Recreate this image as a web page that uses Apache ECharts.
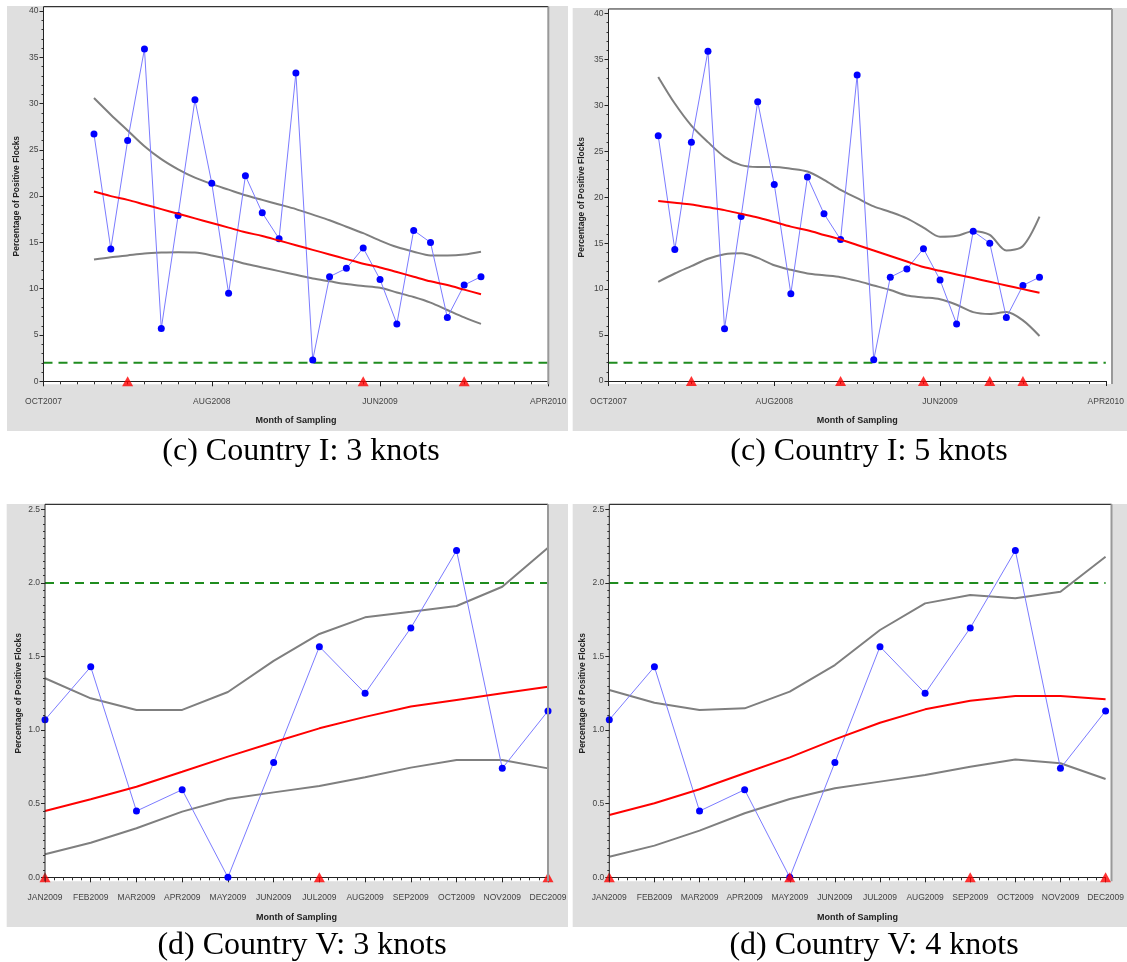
<!DOCTYPE html>
<html><head><meta charset="utf-8">
<script src="https://cdn.jsdelivr.net/npm/echarts@6/dist/echarts.min.js"></script>
<style>html,body{margin:0;padding:0;background:#fff}#c{width:1127px;height:962px}</style>
</head><body><div id="c"></div>
<script>
// ---------- DATA ----------
const monthsI = ['JAN2008','FEB2008','MAR2008','APR2008','MAY2008','JUN2008','JUL2008','AUG2008','SEP2008','OCT2008','NOV2008','DEC2008',
                 'JAN2009','FEB2009','MAR2009','APR2009','MAY2009','JUN2009','JUL2009','AUG2009','SEP2009','OCT2009','NOV2009','DEC2009'];
const pctI = [26.7, 14.3, 26.0, 35.9, 5.7, 17.9, 30.4, 21.4, 9.5, 22.2, 18.2, 15.4, 33.3, 2.3, 11.3, 12.2, 14.4, 11.0, 6.2, 16.3, 15.0, 6.9, 10.4, 11.3];
const fitI3   = [20.5, 20.0, 19.6, 19.1, 18.6, 18.1, 17.6, 17.1, 16.6, 16.1, 15.7, 15.2, 14.7, 14.2, 13.7, 13.2, 12.7, 12.3, 11.8, 11.3, 10.8, 10.4, 9.9, 9.4];
const upperI3 = [30.6, 28.8, 27.1, 25.4, 24.0, 22.9, 22.0, 21.3, 20.7, 20.1, 19.6, 19.1, 18.6, 18.0, 17.4, 16.7, 16.0, 15.2, 14.5, 14.0, 13.6, 13.6, 13.7, 14.0];
const lowerI3 = [13.15, 13.4, 13.6, 13.8, 13.9, 13.95, 13.9, 13.6, 13.2, 12.7, 12.3, 11.9, 11.5, 11.1, 10.8, 10.5, 10.3, 10.1, 9.6, 9.1, 8.5, 7.7, 6.9, 6.2];
const knotsI3 = ['MAR2008','MAY2009','NOV2009'];
const fitI5   = [19.6, 19.4, 19.2, 18.9, 18.6, 18.2, 17.8, 17.3, 16.8, 16.4, 15.9, 15.4, 14.8, 14.2, 13.6, 13.0, 12.4, 12.0, 11.6, 11.2, 10.8, 10.4, 10.0, 9.6];
const upperI5 = [33.1, 30.2, 27.8, 26.0, 24.4, 23.5, 23.3, 23.3, 23.1, 22.8, 21.9, 20.8, 19.9, 19.0, 18.4, 17.7, 16.7, 15.7, 15.8, 16.3, 15.9, 14.2, 14.7, 17.9];
const lowerI5 = [10.8, 11.7, 12.5, 13.3, 13.8, 13.9, 13.4, 12.6, 12.1, 11.7, 11.5, 11.3, 10.9, 10.4, 9.9, 9.3, 9.1, 8.9, 8.3, 7.5, 7.3, 7.5, 6.6, 4.9];
const knotsI5 = ['MAR2008','DEC2008','MAY2009','SEP2009','NOV2009'];
const xTicksI = ['OCT2007','AUG2008','JUN2009','APR2010'];

const monthsV = ['JAN2009','FEB2009','MAR2009','APR2009','MAY2009','JUN2009','JUL2009','AUG2009','SEP2009','OCT2009','NOV2009','DEC2009'];
const pctV    = [1.07, 1.43, 0.45, 0.595, 0.0, 0.78, 1.567, 1.25, 1.694, 2.22, 0.74, 1.13];
const fitV3   = [0.45, 0.53, 0.615, 0.717, 0.82, 0.917, 1.012, 1.09, 1.16, 1.205, 1.25, 1.295];
const upperV3 = [1.352, 1.216, 1.137, 1.137, 1.259, 1.47, 1.653, 1.766, 1.804, 1.843, 1.974, 2.239];
const lowerV3 = [0.156, 0.235, 0.333, 0.446, 0.532, 0.577, 0.62, 0.679, 0.745, 0.797, 0.797, 0.74];
const knotsV3 = ['JAN2009','JUL2009','DEC2009'];
const fitV4   = [0.423, 0.503, 0.598, 0.707, 0.815, 0.937, 1.05, 1.141, 1.2, 1.232, 1.232, 1.21];
const upperV4 = [1.273, 1.186, 1.137, 1.148, 1.261, 1.442, 1.68, 1.861, 1.918, 1.895, 1.94, 2.178];
const lowerV4 = [0.14, 0.215, 0.317, 0.435, 0.532, 0.605, 0.65, 0.695, 0.751, 0.80, 0.775, 0.668];
const knotsV4 = ['JAN2009','MAY2009','SEP2009','DEC2009'];
const xTicksV = monthsV;

const threshold = 2;
const captions = ['(c) Country I: 3 knots','(c) Country I: 5 knots','(d) Country V: 3 knots','(d) Country V: 4 knots'];
const yTitle = 'Percentage of Positive Flocks';
const xTitle = 'Month of Sampling';

// ---------- HELPERS ----------
const MON = ['JAN','FEB','MAR','APR','MAY','JUN','JUL','AUG','SEP','OCT','NOV','DEC'];
function mIdx(s){ return parseInt(s.slice(3),10)*12 + MON.indexOf(s.slice(0,3)); }

const panels = [
  {months:monthsI, pct:pctI, fit:fitI3, up:upperI3, lo:lowerI3, knots:knotsI3, base:'OCT2007', xmax:30, xint:10, xlab:xTicksI, ymax:40, yint:5, dec:0, xminor:10, yminor:5, smooth:0.3},
  {months:monthsI, pct:pctI, fit:fitI5, up:upperI5, lo:lowerI5, knots:knotsI5, base:'OCT2007', xmax:30, xint:10, xlab:xTicksI, ymax:40, yint:5, dec:0, xminor:10, yminor:5, smooth:0.3},
  {months:monthsV, pct:pctV, fit:fitV3, up:upperV3, lo:lowerV3, knots:knotsV3, base:'JAN2009', xmax:11, xint:1, xlab:xTicksV, ymax:2.5, yint:0.5, dec:1, xminor:5, yminor:10, smooth:false},
  {months:monthsV, pct:pctV, fit:fitV4, up:upperV4, lo:lowerV4, knots:knotsV4, base:'JAN2009', xmax:11, xint:1, xlab:xTicksV, ymax:2.5, yint:0.5, dec:1, xminor:5, yminor:10, smooth:false}
];

// layout (pixels)
const lay = [
  {gx:7,     gy:6,   gw:561,   gh:425, L:43.5,  R:548.3, T:11,    B:381.3, top:6.7,   off:3, lm:13, ng:32, cap:[301,452]},
  {gx:572.7, gy:8,   gw:554.3, gh:423, L:608.5, R:1112,  T:13.5,  B:381,   top:9,     off:3, lm:13, ng:32, cap:[869,452]},
  {gx:6.7,   gy:504, gw:561.3, gh:423, L:45,    R:548,   T:509.3, B:877.3, top:504.3, off:4, lm:12, ng:32, cap:[302,946]},
  {gx:572.7, gy:504, gw:554.3, gh:423, L:609.3, R:1111.5,T:509.3, B:877.3, top:504.3, off:4, lm:12, ng:32, cap:[874,946]}
];

const grid=[], xAxis=[], yAxis=[], series=[], graphic=[];
panels.forEach((p,i)=>{
  const g = lay[i];
  const b = mIdx(p.base);
  const xs = p.months.map(m=>mIdx(m)-b);
  const pair = arr => arr.map((v,k)=>[xs[k], v]);
  grid.push({left:g.L, top:g.T, width:g.R-g.L, height:g.B-g.T, containLabel:false});
  xAxis.push({
    gridIndex:i, type:'value', min:0, max:p.xmax, interval:p.xint, offset:g.off,
    axisLine:{show:true, lineStyle:{color:'#222', width:1}},
    axisTick:{show:true, length:5, lineStyle:{color:'#222'}},
    minorTick:{show:true, splitNumber:p.xminor, length:3, lineStyle:{color:'#333'}},
    splitLine:{show:false},
    axisLabel:{fontSize:8.5, color:'#444', margin:g.lm, fontFamily:'Liberation Sans', showMinLabel:true, showMaxLabel:true, hideOverlap:false,
      formatter:v=>p.xlab[Math.round(v/p.xint)] || ''},
    name:xTitle, nameLocation:'middle', nameGap:g.ng,
    nameTextStyle:{fontWeight:'bold', fontSize:9, color:'#222', fontFamily:'Liberation Sans'}
  });
  yAxis.push({
    gridIndex:i, type:'value', min:0, max:p.ymax, interval:p.yint,
    axisLine:{show:false},
    axisTick:{show:true, length:4, lineStyle:{color:'#222'}},
    minorTick:{show:true, splitNumber:p.yminor, length:2, lineStyle:{color:'#333'}},
    splitLine:{show:false},
    axisLabel:{fontSize:8.5, color:'#444', margin:5, fontFamily:'Liberation Sans', formatter:v=>v.toFixed(p.dec)},
    name:yTitle, nameLocation:'middle', nameGap:22, nameRotate:90,
    nameTextStyle:{fontWeight:'bold', fontSize:8.5, color:'#222', fontFamily:'Liberation Sans'}
  });
  series.push({type:'line', xAxisIndex:i, yAxisIndex:i, data:[[0,threshold],[p.xmax,threshold]], symbol:'none', silent:true,
    lineStyle:{color:'#1f8c1f', width:2, type:[9,6]}, z:1});
  series.push({type:'line', xAxisIndex:i, yAxisIndex:i, data:pair(p.lo), symbol:'none', smooth:p.smooth, lineStyle:{color:'#7f7f7f', width:2}, z:2});
  series.push({type:'line', xAxisIndex:i, yAxisIndex:i, data:pair(p.up), symbol:'none', smooth:p.smooth, lineStyle:{color:'#7f7f7f', width:2}, z:2});
  series.push({type:'line', xAxisIndex:i, yAxisIndex:i, data:pair(p.pct), symbol:'circle', symbolSize:7, clip:false,
    itemStyle:{color:'#0000ff'}, lineStyle:{color:'#7b7bff', width:1}, z:3});
  series.push({type:'line', xAxisIndex:i, yAxisIndex:i, data:pair(p.fit), symbol:'none', smooth:p.smooth, lineStyle:{color:'#ff0000', width:2}, z:4});
  series.push({type:'scatter', xAxisIndex:i, yAxisIndex:i, data:p.knots.map(k=>[mIdx(k)-b, 0]), symbol:'triangle', symbolSize:[11,10], clip:false,
    itemStyle:{color:'#ff0000'}, z:5});

  // panel chrome
  graphic.push({type:'rect', shape:{x:g.gx, y:g.gy, width:g.gw, height:g.gh}, style:{fill:'#dfdfdf'}, z:-20, silent:true});
  graphic.push({type:'rect', shape:{x:g.L, y:g.top, width:g.R-g.L, height:g.B+g.off-g.top}, style:{fill:'#ffffff'}, z:-19, silent:true});
  graphic.push({type:'line', shape:{x1:g.L, y1:g.top, x2:g.R, y2:g.top}, style:{stroke:'#333', lineWidth:1.2}, z:10, silent:true});
  graphic.push({type:'line', shape:{x1:g.L, y1:g.top, x2:g.L, y2:g.B+g.off}, style:{stroke:'#222', lineWidth:1}, z:10, silent:true});
  graphic.push({type:'line', shape:{x1:g.R, y1:g.top, x2:g.R, y2:g.B+g.off}, style:{stroke:'#999', lineWidth:2}, z:10, silent:true});
  graphic.push({type:'text', x:g.cap[0], y:g.cap[1], style:{text:captions[i], font:'32px "Liberation Serif"', fill:'#000', align:'center', verticalAlign:'middle'}, z:10, silent:true});
});

const chart = echarts.init(document.getElementById('c'), null, {renderer:'canvas'});
chart.setOption({animation:false, backgroundColor:'#fff', grid, xAxis, yAxis, series, graphic});
</script></body></html>
